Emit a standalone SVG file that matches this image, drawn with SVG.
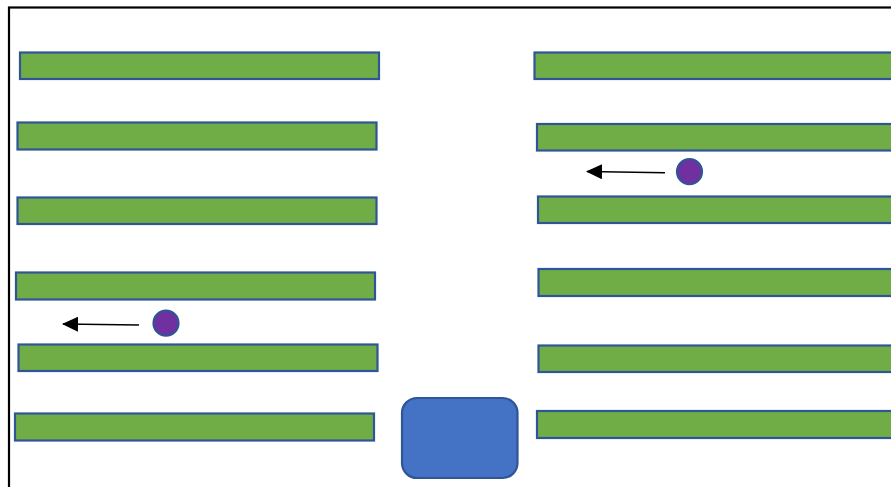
<svg xmlns="http://www.w3.org/2000/svg" width="891" height="487" viewBox="0 0 891 487">
<style>
.bar{fill:#70AD47;stroke:#2F5597;stroke-width:2.2}
.dot{fill:#7030A0;stroke:#2F5597;stroke-width:2.2}
.arr{stroke:#000;stroke-width:1.4;fill:none}
</style>
<defs>
<marker id="ah" markerWidth="16" markerHeight="15" refX="15" refY="7.5" orient="auto" markerUnits="userSpaceOnUse">
<path d="M0,0 L16,7.5 L0,15 Z" fill="#000"/>
</marker>
</defs>
<rect width="891" height="487" fill="#fff"/>
<rect id="border" x="9" y="7.5" width="900" height="500" fill="none" stroke="#000" stroke-width="2.2"/>
<g id="bar-l1"><rect class="bar" x="20" y="52.5" width="359" height="26.5"/></g>
<g id="bar-l2"><rect class="bar" x="17.5" y="122.5" width="359" height="27"/></g>
<g id="bar-l3"><rect class="bar" x="17.5" y="197.5" width="359" height="26.5"/></g>
<g id="bar-l4"><rect class="bar" x="16" y="272.5" width="359" height="27"/></g>
<g id="bar-l5"><rect class="bar" x="18.5" y="344.5" width="359" height="26.5"/></g>
<g id="bar-l6"><rect class="bar" x="15" y="413.5" width="359" height="27"/></g>
<g id="bar-r1"><rect class="bar" x="534.5" y="52.5" width="400" height="26.5"/></g>
<g id="bar-r2"><rect class="bar" x="537" y="124" width="400" height="26.5"/></g>
<g id="bar-r3"><rect class="bar" x="538" y="196.5" width="400" height="26.5"/></g>
<g id="bar-r4"><rect class="bar" x="538.5" y="269" width="400" height="27"/></g>
<g id="bar-r5"><rect class="bar" x="538.5" y="345.5" width="400" height="26.5"/></g>
<g id="bar-r6"><rect class="bar" x="537" y="411" width="400" height="27"/></g>
<g id="vehicle"><rect x="402" y="398" width="115.5" height="80" rx="15" ry="15" fill="#4472C4" stroke="#2F5597" stroke-width="2.2"/></g>
<g id="dot-l"><circle class="dot" cx="166" cy="323.2" r="12.5"/></g>
<g id="dot-r"><circle class="dot" cx="689.5" cy="171.7" r="12.5"/></g>
<g id="connectors">
<line class="arr" x1="139" y1="325" x2="63" y2="324" marker-end="url(#ah)"/>
<line class="arr" x1="665" y1="172.8" x2="587" y2="171.5" marker-end="url(#ah)"/>
</g>
</svg>
